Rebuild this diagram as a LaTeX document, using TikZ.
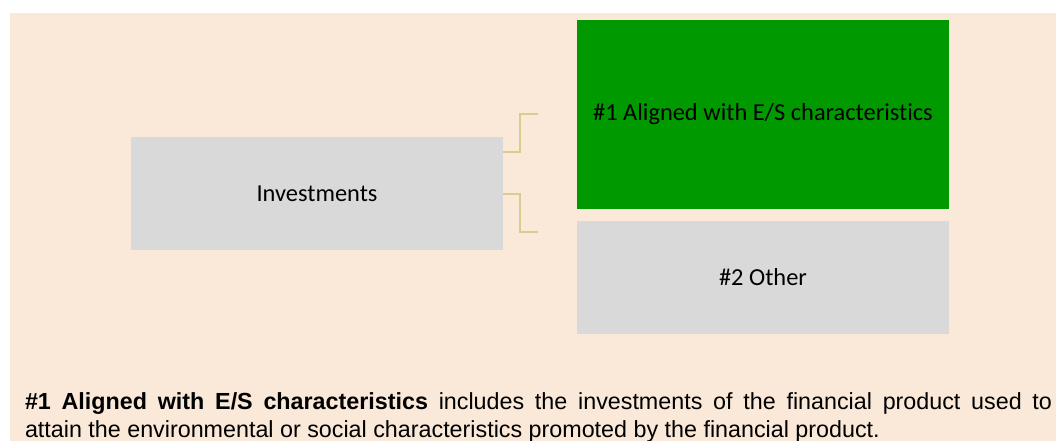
\documentclass[tikz,border=0pt]{standalone}
\usepackage{fontspec}
\setmainfont{Liberation Sans}
\newfontfamily\boxfont[Ligatures=NoCommon]{Carlito}
\definecolor{peach}{RGB}{250,232,217}
\definecolor{boxgreen}{RGB}{0,153,0}
\definecolor{boxgray}{RGB}{217,217,217}
\definecolor{linkcol}{RGB}{216,204,143}
\begin{document}
\begin{tikzpicture}[x=1pt,y=-1pt,
  box/.style={rectangle, inner sep=0pt, outer sep=0pt, minimum width=372pt, align=center,
    font=\boxfont\fontsize{24.4}{29}\selectfont, text=black},
  link/.style={draw=linkcol, line width=1.6pt},
  note/.style={anchor=north west, inner sep=0pt, outer sep=0pt, text width=1027pt, align=justify,
    font=\fontsize{23.3}{28}\selectfont}]
\useasboundingbox (0,0) rectangle (1056,441);
\fill[white] (0,0) rectangle (1056,441);
\fill[peach] (10,13) rectangle (1056,441);
\node[box, fill=boxgreen, minimum height=189pt] (es) at (763,114.5) {\#1 Aligned with E/S characteristics};
\node[box, fill=boxgray, minimum height=113pt] (oth) at (763,277.5) {\#2 Other};
\node[box, fill=boxgray, minimum height=113pt] (inv) at (317,193.5) {Investments};
\coordinate (c1) at (538,114);
\coordinate (c2) at (538,232);
\draw[link] (inv.north east) ++(0,15) -- ++(17,0) |- (c1);
\draw[link] (inv.south east) ++(0,-56) -- ++(17,0) |- (c2);
\node[note] (txt) at (25,392.5) {\textbf{\#1 Aligned with E/S characteristics} includes the investments of the financial product used to\linebreak attain the environmental or social characteristics promoted by the financial product.};
\end{tikzpicture}
\end{document}
